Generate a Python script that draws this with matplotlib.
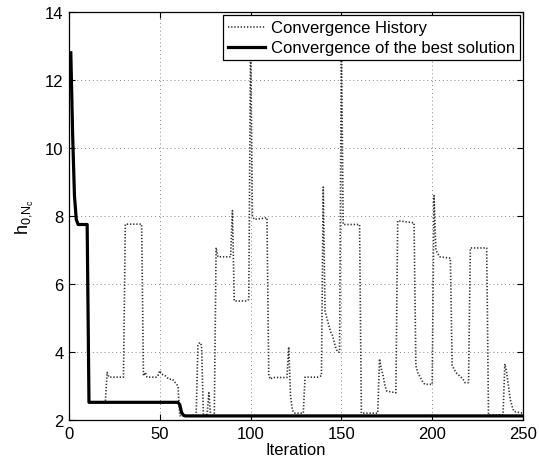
import matplotlib
matplotlib.use("Agg")
import matplotlib.pyplot as plt

plt.rcParams['font.family'] = ['Liberation Sans', 'DejaVu Sans']
plt.rcParams['mathtext.default'] = 'regular'

# Convergence of the best solution (iteration, value)
best_iter = [1, 2, 3, 4, 5, 10, 11, 60, 61, 62, 63, 64, 250]
best_vals = [12.8, 10.4, 8.6, 7.9, 7.75, 7.75, 2.52, 2.52, 2.45, 2.22, 2.14, 2.12, 2.12]

# Convergence history (iteration, value)
hist_iter = [1, 2, 3, 4, 5, 10, 11, 20, 21, 22, 30, 31, 40, 41, 42, 43, 48, 49, 50, 51, 53, 55, 57, 60,
             61, 70, 71, 72, 73, 74, 76, 77, 78, 80, 81, 82, 89, 90, 91, 98, 99, 100, 101, 102, 109,
             110, 111, 112, 120, 121, 122, 123, 124, 129, 130, 137, 139, 140, 141, 142, 143, 144, 145,
             146, 147, 148, 149, 150, 151, 160, 161, 170, 171, 172, 173, 174, 175, 180, 181, 190, 191,
             192, 193, 195, 196, 200, 201, 202, 203, 204, 210, 211, 212, 213, 215, 217, 218, 220, 221,
             230, 231, 239, 240, 241, 242, 243, 244, 245, 250]
hist_vals = [12.8, 10.4, 8.6, 7.9, 7.75, 7.75, 2.52, 2.52, 3.4, 3.26, 3.26, 7.76, 7.76, 3.3, 3.4, 3.26, 3.26, 3.3, 3.45, 3.35, 3.3, 3.2, 3.2, 3.0,
             2.13, 2.13, 4.2, 4.28, 4.2, 2.13, 2.13, 2.8, 2.13, 2.13, 7.07, 6.8, 6.8, 8.16, 5.5, 5.5, 5.55, 13.2, 8.0, 7.9, 7.95,
             3.3, 3.2, 3.25, 3.25, 4.15, 2.7, 2.3, 2.2, 2.2, 3.26, 3.26, 3.3, 8.85, 5.2, 5.0, 4.8, 4.6, 4.5,
             4.3, 4.1, 4.0, 4.0, 13.2, 7.75, 7.75, 2.2, 2.2, 3.8, 3.5, 3.3, 3.0, 2.85, 2.8, 7.86, 7.8, 3.6,
             3.4, 3.3, 3.1, 3.05, 3.05, 8.6, 7.0, 6.9, 6.8, 6.76, 3.6, 3.5, 3.4, 3.3, 3.2, 3.1, 3.1, 7.06,
             7.06, 2.15, 2.15, 3.65, 3.4, 3.0, 2.6, 2.4, 2.25, 2.2]

x_ticks = [0, 50, 100, 150, 200, 250]
y_ticks = [2, 4, 6, 8, 10, 12, 14]

fig = plt.figure(figsize=(5.39, 4.64), dpi=100)
ax = fig.add_axes([69/539, 1 - 421/464, (523-69)/539, (421-13)/464])

ax.plot(hist_iter, hist_vals, color='#333333', linestyle=(0, (0.8, 1.1)), linewidth=1.2,
        label='Convergence History', zorder=2)
ax.plot(best_iter, best_vals, color='black', linestyle='-', linewidth=2.3,
        label='Convergence of the best solution', zorder=3, solid_joinstyle='round')

ax.set_xlim(0, 250)
ax.set_ylim(2, 14)
ax.set_xticks(x_ticks)
ax.set_yticks(y_ticks)
ax.grid(True, linestyle=(0, (1, 3)), color='#888888', linewidth=0.7)
ax.tick_params(direction='in', top=True, right=True, length=4, width=0.8, labelsize=12, pad=4)
for s in ax.spines.values():
    s.set_linewidth(0.9)

ax.set_xlabel('Iteration', fontsize=12, labelpad=1)
ax.set_ylabel(r'$h_{0{,}N_c}$', fontsize=13, labelpad=6)

leg = ax.legend(loc='upper right', fontsize=12, frameon=True, fancybox=False,
                edgecolor='black', framealpha=1, borderaxespad=0.2,
                handlelength=2.2, handletextpad=0.35, borderpad=0.3, labelspacing=0.3)
leg.get_frame().set_linewidth(0.9)

fig.savefig('out.png', dpi=100)
